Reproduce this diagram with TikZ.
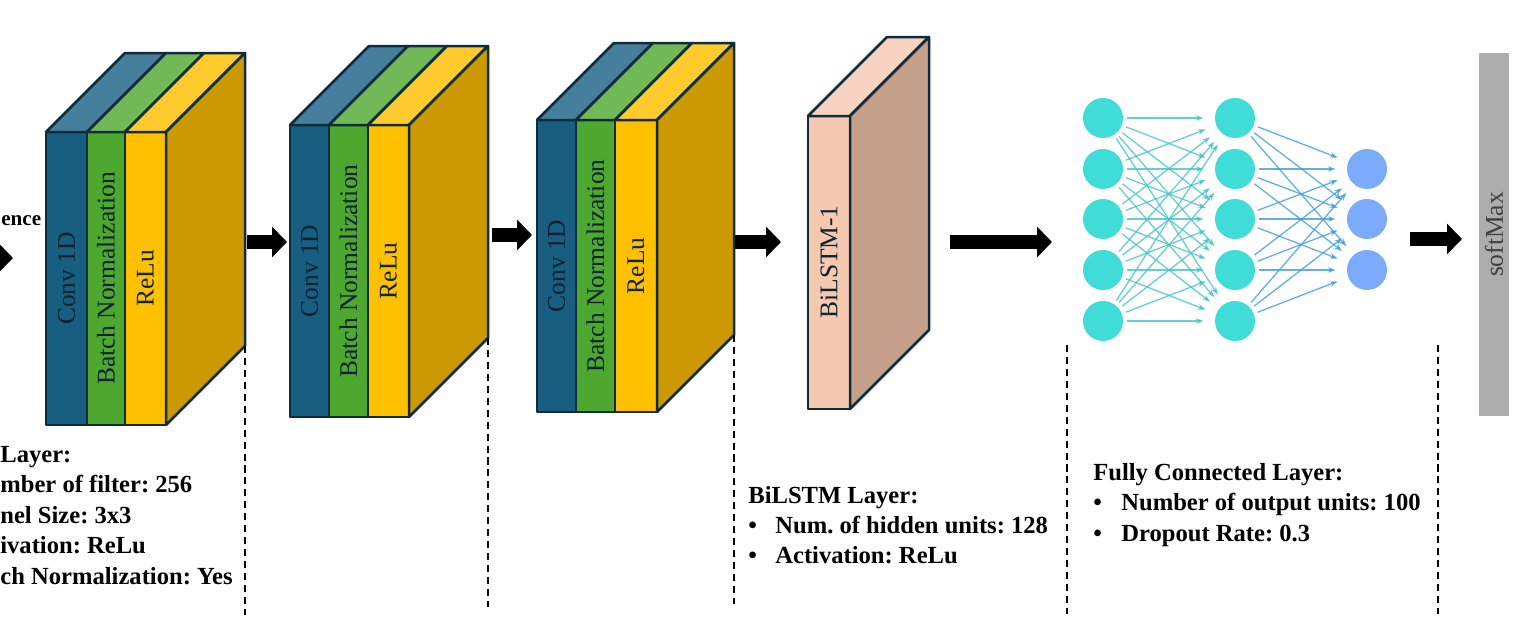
\documentclass[tikz,border=0pt]{standalone}
\usepackage{fontspec}
\setmainfont{Liberation Serif}
\usetikzlibrary{arrows.meta}
\frenchspacing

\definecolor{convblue}{HTML}{175E80}
\definecolor{convtop}{HTML}{467F9B}
\definecolor{bngreen}{HTML}{4EA72E}
\definecolor{bntop}{HTML}{71B856}
\definecolor{reluyellow}{HTML}{FFC000}
\definecolor{relutop}{HTML}{FFCA2C}
\definecolor{sidegold}{HTML}{CC9A00}
\definecolor{edgenavy}{HTML}{0F2C3C}
\definecolor{lbltext}{HTML}{0E2230}
\definecolor{lstmfront}{HTML}{F5C8B0}
\definecolor{lstmtop}{HTML}{F7D3BF}
\definecolor{lstmside}{HTML}{C49F89}
\definecolor{softgray}{HTML}{ADADAD}
\definecolor{neuroncyan}{HTML}{40DCD8}
\definecolor{outblue}{HTML}{7BABFA}
\definecolor{edgeteal}{HTML}{44C2C6}
\definecolor{edgeblue}{HTML}{3F9CD8}

\begin{document}
\begin{tikzpicture}[x=0.02cm,y=-0.02cm,
    face/.style={draw=edgenavy, line width=0.05cm, line join=round},
    lbl/.style={rotate=90, font=\fontsize{14.5}{16}\selectfont, text=lbltext, inner sep=0pt},
    bigarrow/.style={draw=black, line width=0.28cm, -{Triangle[length=0.3cm,width=0.6cm]}},
    info/.style={font=\fontsize{14}{17}\selectfont\bfseries, inner sep=0pt, anchor=base west},
    neuron/.style={circle, fill=#1, minimum size=0.8cm, inner sep=0pt},
    fcedge/.style={draw=#1, opacity=0.8, line width=0.75pt, shorten <=0.08cm, shorten >=0.22cm,
      -{Stealth[length=0.16cm,width=0.11cm]}},
    divider/.style={draw=black, line width=1.1pt, dash pattern=on 4pt off 2.8pt}]
  \useasboundingbox (0,0) rectangle (1532,622);
  \clip (0,0) rectangle (1532,622);

  % Drawing the three convolution blocks
  \foreach \n/\xa/\xb/\xc/\xd/\yt/\yb/\d in {1/46/87/125/166/132/425/79,
      2/290/329/368/409/125/417/79, 3/537/576/615/657/120/412/77} {
    \draw[face, fill=convblue] (\xa,\yt) rectangle (\xb,\yb);
    \draw[face, fill=bngreen] (\xb,\yt) rectangle (\xc,\yb);
    \draw[face, fill=reluyellow] (\xc,\yt) rectangle (\xd,\yb);
    \draw[face, fill=convtop] (\xa,\yt) -- (\xb,\yt) -- ++(\d,-\d) -- (\xa+\d,\yt-\d) -- cycle;
    \draw[face, fill=bntop] (\xb,\yt) -- (\xc,\yt) -- ++(\d,-\d) -- (\xb+\d,\yt-\d) -- cycle;
    \draw[face, fill=relutop] (\xc,\yt) -- (\xd,\yt) -- ++(\d,-\d) -- (\xc+\d,\yt-\d) -- cycle;
    \draw[face, fill=sidegold] (\xd,\yt) -- ++(\d,-\d) -- (\xd+\d,\yb-\d) -- (\xd,\yb) -- cycle;
    \node[lbl] (conv\n) at ({(\xa+\xb)/2},{(\yt+\yb)/2}) {Conv 1D};
    \node[lbl] (bn\n) at ({(\xb+\xc)/2},{(\yt+\yb)/2}) {Batch Normalization};
    \node[lbl] (relu\n) at ({(\xc+\xd)/2},{(\yt+\yb)/2}) {ReLu};
    \coordinate (corner\n) at (\xd+\d,\yb-\d);
  }

  % Drawing BiLSTM block
  \draw[face, fill=lstmfront] (808,116) rectangle (850,409);
  \draw[face, fill=lstmtop] (808,116) -- (850,116) -- (929,37) -- (887,37) -- cycle;
  \draw[face, fill=lstmside] (850,116) -- (929,37) -- (929,330) -- (850,409) -- cycle;
  \node[lbl] (lstm) at (829,262) {BiLSTM-1};

  % Drawing softmax bar
  \node[lbl, fill=softgray, text=black!75, minimum width=7.26cm, minimum height=0.6cm]
    (softmax) at (1494,234.5) {softMax};

  % Drawing fully connected network
  \foreach \i/\y in {1/118,2/169,3/219,4/270,5/321} {
    \node[neuron=neuroncyan] (x\i) at (1103,\y) {};
    \node[neuron=neuroncyan] (h\i) at (1235,\y) {};
  }
  \foreach \i/\y in {1/169,2/219,3/270}
    \node[neuron=outblue] (o\i) at (1367,\y) {};
  \foreach \a in {1,...,5}
    \foreach \b in {1,...,5}
      \draw[fcedge=edgeteal] (x\a) -- (h\b);
  \foreach \a in {1,...,5}
    \foreach \b in {1,2,3}
      \draw[fcedge=edgeblue] (h\a) -- (o\b);

  % Drawing arrows
  \coordinate (a0s) at (-40,258); \coordinate (a0e) at (13,258);
  \coordinate (a1s) at (247,242); \coordinate (a1e) at (287,242);
  \coordinate (a2s) at (492,235); \coordinate (a2e) at (532,235);
  \coordinate (a3s) at (735,242); \coordinate (a3e) at (781,242);
  \coordinate (a4s) at (950,242); \coordinate (a4e) at (1052,242);
  \coordinate (a5s) at (1410,239); \coordinate (a5e) at (1462,239);
  \foreach \k in {0,...,5}
    \draw[bigarrow] (a\k s) -- (a\k e);

  % Drawing dashed separators
  \coordinate (div4) at (1067,345);
  \coordinate (div5) at (1438,345);
  \foreach \c in {corner1,corner2,corner3,div4,div5}
    \draw[divider] (\c) -- ++(0,269);

  % Drawing layer descriptions
  \node[info, font=\fontsize{12}{14}\selectfont\bfseries] (seqtxt) at (1,225) {ence};
  \node[info] (cnninfo0) at (0,462) {Layer:};
  \node[info] (cnninfo1) at (0,492.5) {mber of filter: 256};
  \node[info] (cnninfo2) at (0,523) {nel Size: 3x3};
  \node[info] (cnninfo3) at (0,553.5) {ivation: ReLu};
  \node[info] (cnninfo4) at (0,584) {ch Normalization: Yes};

  \node[info] (lstminfo0) at (748,503) {BiLSTM Layer:};
  \node[info] (lstminfo1) at (748,533) {\makebox[0.54cm][l]{\textbullet}Num. of hidden units: 128};
  \node[info] (lstminfo2) at (748,563) {\makebox[0.54cm][l]{\textbullet}Activation: ReLu};

  \node[info] (fcinfo0) at (1093,480) {Fully Connected Layer:};
  \node[info] (fcinfo1) at (1093,510) {\makebox[0.56cm][l]{\textbullet}Number of output units: 100};
  \node[info] (fcinfo2) at (1093,541) {\makebox[0.56cm][l]{\textbullet}Dropout Rate: 0.3};
\end{tikzpicture}
\end{document}
